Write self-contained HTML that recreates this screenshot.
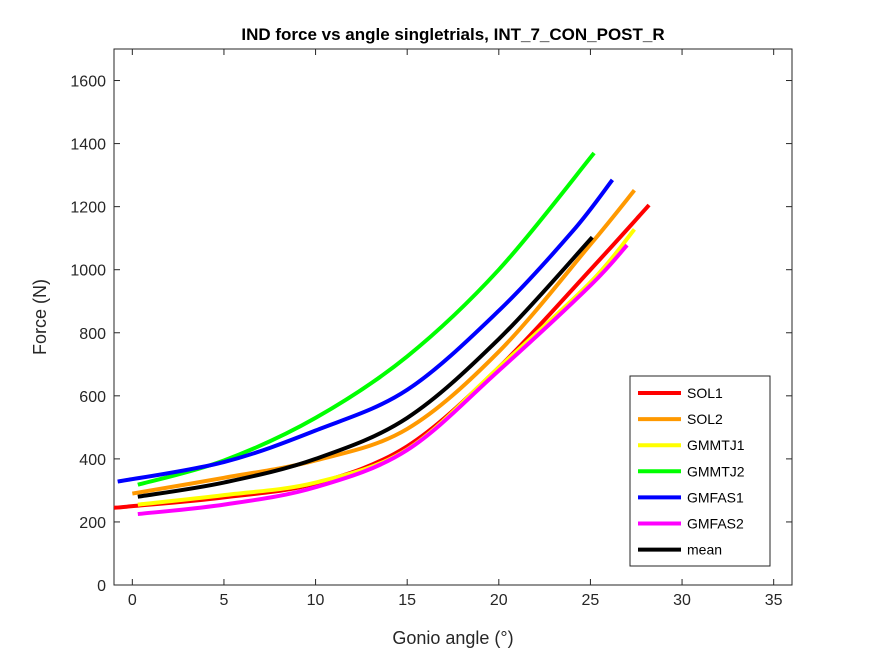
<!DOCTYPE html>
<html><head><meta charset="utf-8"><style>
body{margin:0;background:#fff;}
svg text{font-family:"Liberation Sans",Arial,sans-serif;}
</style></head><body>
<svg id="chart" width="875" height="656" xmlns="http://www.w3.org/2000/svg">
<rect width="875" height="656" fill="#fff"/>
<g id="plot"></g>
</svg>
<script>
const seriesNames=["SOL1","SOL2","GMMTJ1","GMMTJ2","GMFAS1","GMFAS2","mean"];
const seriesColors=["#ff0000","#ff9900","#ffff00","#00ff00","#0000ff","#ff00ff","#000000"];
const sol1X=[-1,0,5,10,15,20,25,28.2];
const sol1Y=[245,250,278,322,440,690,1000,1205];
const sol2X=[0,5,10,15,20,25,27.4];
const sol2Y=[290,340,395,495,740,1080,1252];
const gmmtj1X=[0.3,5,10,15,20,25,27.4];
const gmmtj1Y=[255,285,325,430,690,960,1128];
const gmmtj2X=[0.3,5,10,15,20,25.2];
const gmmtj2Y=[318,395,530,725,1000,1370];
const gmfas1X=[-0.8,5,10,15,20,24,26.2];
const gmfas1Y=[328,390,490,619,870,1120,1285];
const gmfas2X=[0.3,5,10,15,20,25,27];
const gmfas2Y=[225,255,310,428,680,950,1078];
const meanX=[0.3,5,10,15,20,25.1];
const meanY=[280,325,400,530,780,1103];
const xTicks=[0,5,10,15,20,25,30,35];
const yTicks=[0,200,400,600,800,1000,1200,1400,1600];

const L=114,R=792,T=49,B=585,xmin=-1,xmax=36,ymin=0,ymax=1700;
const sx=v=>L+(v-xmin)/(xmax-xmin)*(R-L);
const sy=v=>B-(v-ymin)/(ymax-ymin)*(B-T);
const NS="http://www.w3.org/2000/svg";
const g=document.getElementById('plot');
function mk(tag,attrs,parent){const e=document.createElementNS(NS,tag);for(const k in attrs)e.setAttribute(k,attrs[k]);(parent||g).appendChild(e);return e;}

const box=mk('rect',{x:L,y:T,width:R-L,height:B-T,fill:'#fff',stroke:'#262626','stroke-width':1});



xTicks.forEach(t=>{
  const x=sx(t);
  mk('line',{x1:x,x2:x,y1:B,y2:B-6,stroke:'#262626'});
  mk('line',{x1:x,x2:x,y1:T,y2:T+6,stroke:'#262626'});
  const tx=mk('text',{x:x,y:B+20,'text-anchor':'middle','font-size':16,fill:'#262626'});
  tx.textContent=t;
  
  
});
yTicks.forEach(t=>{
  const y=sy(t);
  mk('line',{x1:L,x2:L+6,y1:y,y2:y,stroke:'#262626'});
  mk('line',{x1:R,x2:R-6,y1:y,y2:y,stroke:'#262626'});
  const tx=mk('text',{x:L-8,y:y+6,'text-anchor':'end','font-size':16,fill:'#262626'});
  tx.textContent=t;
  
  
});

function pathFor(xs,ys){
  const p=xs.map((x,i)=>[sx(x),sy(ys[i])]);
  let d='M'+p[0][0]+','+p[0][1];
  for(let i=0;i<p.length-1;i++){
    const p0=p[i-1]||p[i],p1=p[i],p2=p[i+1],p3=p[i+2]||p2;
    const c1=[p1[0]+(p2[0]-p0[0])/6,p1[1]+(p2[1]-p0[1])/6];
    const c2=[p2[0]-(p3[0]-p1[0])/6,p2[1]-(p3[1]-p1[1])/6];
    d+=` C${c1[0]},${c1[1]} ${c2[0]},${c2[1]} ${p2[0]},${p2[1]}`;
  }
  return d;
}
const allX=[sol1X,sol2X,gmmtj1X,gmmtj2X,gmfas1X,gmfas2X,meanX];
const allY=[sol1Y,sol2Y,gmmtj1Y,gmmtj2Y,gmfas1Y,gmfas2Y,meanY];
allX.forEach((xs,i)=>{
  const p=mk('path',{d:pathFor(xs,allY[i]),fill:'none',stroke:seriesColors[i],'stroke-width':4,'stroke-linejoin':'round'});
  
  
});

const lg=mk('g',{});


mk('rect',{x:630,y:376,width:140,height:190,fill:'#fff',stroke:'#262626'},lg);
seriesNames.forEach((n,i)=>{
  const y=393+i*26.1;
  const e=mk('g',{},lg);
  
  
  mk('line',{x1:638,x2:681,y1:y,y2:y,stroke:seriesColors[i],'stroke-width':4},e);
  const t=mk('text',{x:687,y:y+5,'font-size':14,fill:'#000'},e);
  t.textContent=n;
});

const title=mk('text',{x:453,y:40,'text-anchor':'middle','font-size':17,'font-weight':'bold',fill:'#000'});
title.textContent='IND force vs angle singletrials, INT_7_CON_POST_R';


const xt=mk('text',{x:453,y:644,'text-anchor':'middle','font-size':18,fill:'#262626'});
xt.textContent='Gonio angle (°)';


const yt=mk('text',{x:0,y:0,'text-anchor':'middle','font-size':18,fill:'#262626',transform:'translate(46,317) rotate(-90)'});
yt.textContent='Force (N)';


</script>
</body></html>
